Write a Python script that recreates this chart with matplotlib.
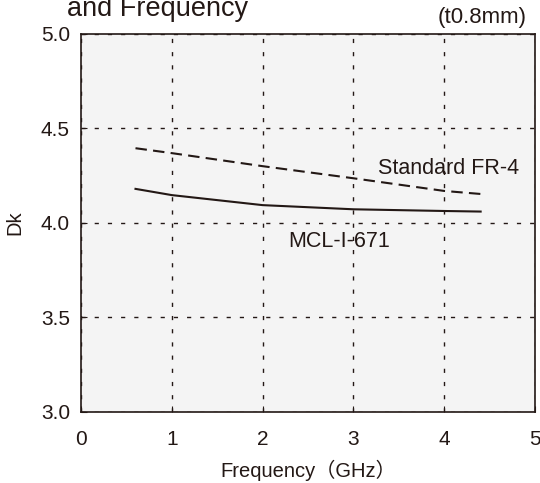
import matplotlib
matplotlib.use("Agg")
import matplotlib.pyplot as plt

plt.rcParams['font.family'] = ['Liberation Sans', 'Noto Sans CJK JP']

# data
freq = [0.6, 1.0, 2.0, 3.0, 4.0, 4.4]
dk_fr4 = [4.395, 4.369, 4.300, 4.236, 4.169, 4.153]
dk_mcl = [4.180, 4.147, 4.094, 4.072, 4.063, 4.060]

xticks = [0, 1, 2, 3, 4, 5]
yticks = [3.0, 3.5, 4.0, 4.5, 5.0]
ink = '#231815'

fig = plt.figure(figsize=(5.4, 4.83), dpi=100)
ax = fig.add_axes([0.15, 0.147, 0.841, 0.783])
ax.set_facecolor('#f4f4f4')

ax.plot(freq, dk_fr4, color=ink, lw=1.5, dashes=(5.5, 3))
ax.plot(freq, dk_mcl, color=ink, lw=1.5)

ax.set_xlim(0, 5)
ax.set_ylim(3.0, 5.0)
ax.set_xticks(xticks)
ax.set_yticks(yticks)
ax.set_yticklabels([f"{v:.1f}" for v in yticks])
ax.tick_params(direction='in', length=4, width=0.8, color=ink,
               labelsize=15, labelcolor=ink)
ax.tick_params(axis='x', pad=13)
ax.tick_params(axis='y', pad=8)
ax.grid(True, color=ink, lw=1.0, ls=(0, (3, 6.5)))
for s in ax.spines.values():
    s.set_color(ink)
    s.set_linewidth(1.2)

ax.text(4.05, 4.286, "Standard FR-4", ha='center', va='center', fontsize=15.5, color=ink)
ax.text(2.84, 3.90, "MCL-I-671", ha='center', va='center', fontsize=15.5, color=ink)

ax.set_xlabel("Frequency（GHz）", fontsize=14.5, color=ink, labelpad=8)
ax.set_ylabel("Dk", fontsize=14.5, color=ink, labelpad=12)

fig.text(0.976, 1 - 18 / 483, "(t0.8mm)", ha='right', va='center', fontsize=16, color=ink)
fig.text(0.124, 1 - 16 / 483, "and Frequency", ha='left', va='baseline', fontsize=19.5, color=ink)

fig.savefig("out.png", dpi=100)
